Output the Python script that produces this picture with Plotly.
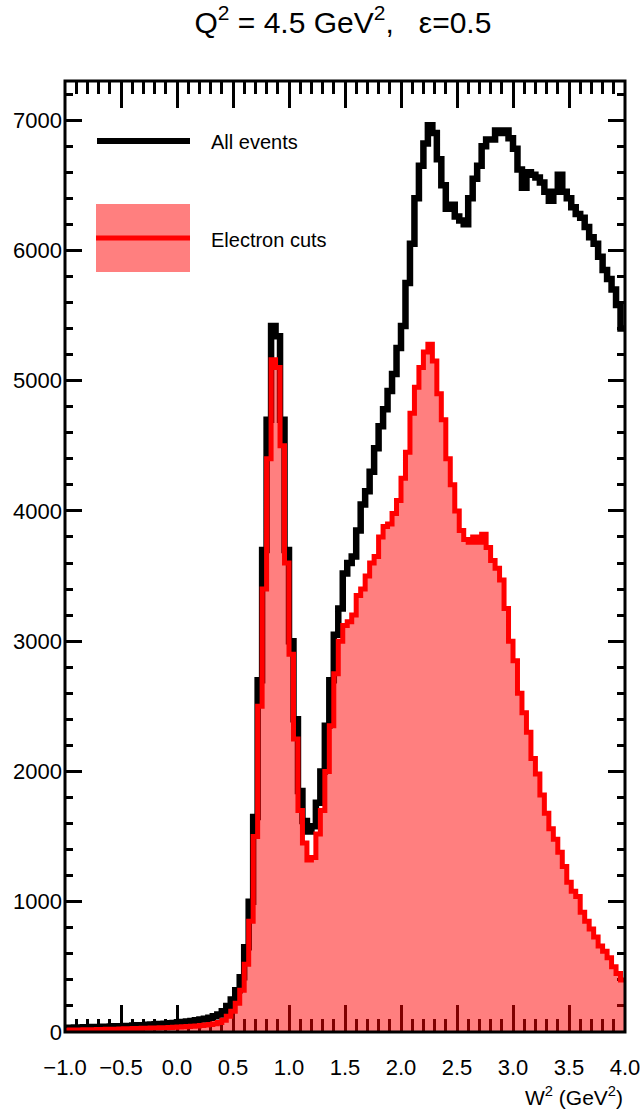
import numpy as np
import plotly.graph_objects as go

# W^2 binning: 125 bins of 0.04 GeV^2 from -1 to 4
w2_low, w2_high, n_bins = -1.0, 4.0, 125

all_events = [
    32, 30, 34, 33, 36, 35, 38, 37, 40, 39,
    42, 44, 43, 47, 46, 50, 52, 51, 55, 57,
    60, 62, 64, 67, 70, 74, 77, 80, 85, 90,
    96, 102, 110, 120, 135, 160, 200, 250, 320, 420,
    650, 1000, 1650, 2700, 3700, 4700, 5420, 5340, 4700, 3700,
    3000, 2400, 1850, 1620, 1540, 1580, 1760, 2000, 2350, 2700,
    3050, 3250, 3520, 3600, 3650, 3850, 4050, 4150, 4300, 4480,
    4650, 4780, 4920, 5050, 5250, 5420, 5750, 6050, 6400, 6650,
    6820, 6960, 6900, 6700, 6500, 6320, 6350, 6260, 6230, 6200,
    6400, 6550, 6650, 6800, 6850, 6850, 6920, 6900, 6920, 6860,
    6780, 6620, 6480, 6600, 6580, 6560, 6520, 6450, 6380, 6450,
    6580, 6450, 6400, 6330, 6280, 6250, 6180, 6100, 6050, 5950,
    5850, 5780, 5700, 5580, 5400,
]

electron_cuts = [
    14, 15, 15, 16, 17, 18, 18, 19, 20, 21,
    22, 22, 23, 24, 25, 26, 27, 28, 29, 30,
    31, 32, 33, 35, 36, 38, 40, 42, 44, 47,
    50, 54, 58, 64, 72, 90, 120, 160, 220, 320,
    520, 850, 1500, 2500, 3400, 4400, 5160, 5100, 4500, 3600,
    2900, 2250, 1700, 1450, 1320, 1340, 1520, 1700, 2000, 2350,
    2750, 3000, 3120, 3150, 3200, 3350, 3400, 3500, 3600, 3650,
    3800, 3880, 3900, 3980, 4080, 4250, 4450, 4750, 4950, 5100,
    5220, 5280, 5150, 4900, 4700, 4400, 4200, 4000, 3850, 3780,
    3760, 3800, 3760, 3820, 3720, 3620, 3560, 3470, 3250, 3000,
    2850, 2600, 2450, 2300, 2100, 1980, 1820, 1680, 1560, 1480,
    1380, 1270, 1150, 1080, 1040, 920, 850, 790, 730, 660,
    620, 570, 500, 450, 400,
]

edges = np.linspace(w2_low, w2_high, n_bins + 1)


def step_y(counts):
    # repeat the last bin so the 'hv' step closes at the upper edge
    return list(counts) + [counts[-1]]


FONT = "Liberation Sans, Arial, Helvetica, sans-serif"

fig = go.Figure()

fig.add_trace(go.Scatter(
    x=edges, y=step_y(all_events), mode="lines", line_shape="hv",
    line=dict(color="black", width=6.5), name="All events",
    showlegend=False, hoverinfo="skip",
))
fig.add_trace(go.Scatter(
    x=edges, y=step_y(electron_cuts), mode="lines", line_shape="hv",
    line=dict(color="#ff0000", width=5), fill="tozeroy",
    fillcolor="rgba(255,0,0,0.5)", name="Electron cuts",
    showlegend=False, hoverinfo="skip",
))

tick_common = dict(
    ticks="inside", mirror="ticks", showline=False, showgrid=False,
    zeroline=False, tickcolor="black", layer="below traces",
    automargin=False,
    tickfont=dict(family=FONT, size=22, color="black"),
)

fig.update_xaxes(
    range=[w2_low, w2_high], dtick=0.5, tick0=0, tickformat=".1f",
    ticklen=27, tickwidth=2.5,
    minor=dict(dtick=0.1, tick0=0, ticklen=13, tickwidth=2.5,
               ticks="inside", tickcolor="black", showgrid=False),
    ticklabelstandoff=20,
    **tick_common,
)
fig.update_yaxes(
    range=[0, 7300], dtick=1000, tick0=0, tickformat="d",
    ticklen=17, tickwidth=2.5,
    minor=dict(dtick=200, tick0=0, ticklen=8, tickwidth=2.5,
               ticks="inside", tickcolor="black", showgrid=False),
    ticklabelstandoff=2,
    **tick_common,
)

# plot frame
fig.add_shape(type="rect", xref="paper", yref="paper", x0=0, x1=1, y0=0, y1=1,
              line=dict(color="black", width=3), layer="above")


def px_x(px):
    return (px - 65) / 560.0


def px_y(py):
    return (1032 - py) / 951.0


# legend drawn by hand
fig.add_shape(type="line", xref="paper", yref="paper",
              x0=px_x(97), x1=px_x(190), y0=px_y(141), y1=px_y(141),
              line=dict(color="black", width=6), layer="above")
fig.add_shape(type="rect", xref="paper", yref="paper",
              x0=px_x(96), x1=px_x(190), y0=px_y(272), y1=px_y(204),
              fillcolor="rgba(255,0,0,0.5)", line=dict(width=0), layer="above")
fig.add_shape(type="line", xref="paper", yref="paper",
              x0=px_x(96), x1=px_x(190), y0=px_y(238), y1=px_y(238),
              line=dict(color="#ff0000", width=5), layer="above")
for label, py in [("All events", 142), ("Electron cuts", 240)]:
    fig.add_annotation(text=label, xref="paper", yref="paper",
                       x=px_x(209), y=px_y(py), xanchor="left", yanchor="middle",
                       showarrow=False, font=dict(family=FONT, size=20, color="black"))

# x-axis title, right aligned under the axis
fig.add_annotation(text="W<sup>2</sup> (GeV<sup>2</sup>)", xref="paper", yref="paper",
                   x=1.0, y=px_y(1096), xanchor="right", yanchor="middle",
                   showarrow=False, font=dict(family=FONT, size=21, color="black"))

fig.update_layout(
    width=641, height=1112,
    margin=dict(l=65, r=16, t=81, b=80, autoexpand=False),
    paper_bgcolor="white", plot_bgcolor="white",
    title=dict(
        text="Q<sup>2</sup> = 4.5 GeV<sup>2</sup>,\u00a0\u00a0\u00a0\u03b5=0.5",
        x=0.535, xref="container", xanchor="center",
        y=1 - 22 / 1112, yref="container", yanchor="middle",
        font=dict(family=FONT, size=30, color="black"),
    ),
    showlegend=False,
)

fig.write_html("out.html")
